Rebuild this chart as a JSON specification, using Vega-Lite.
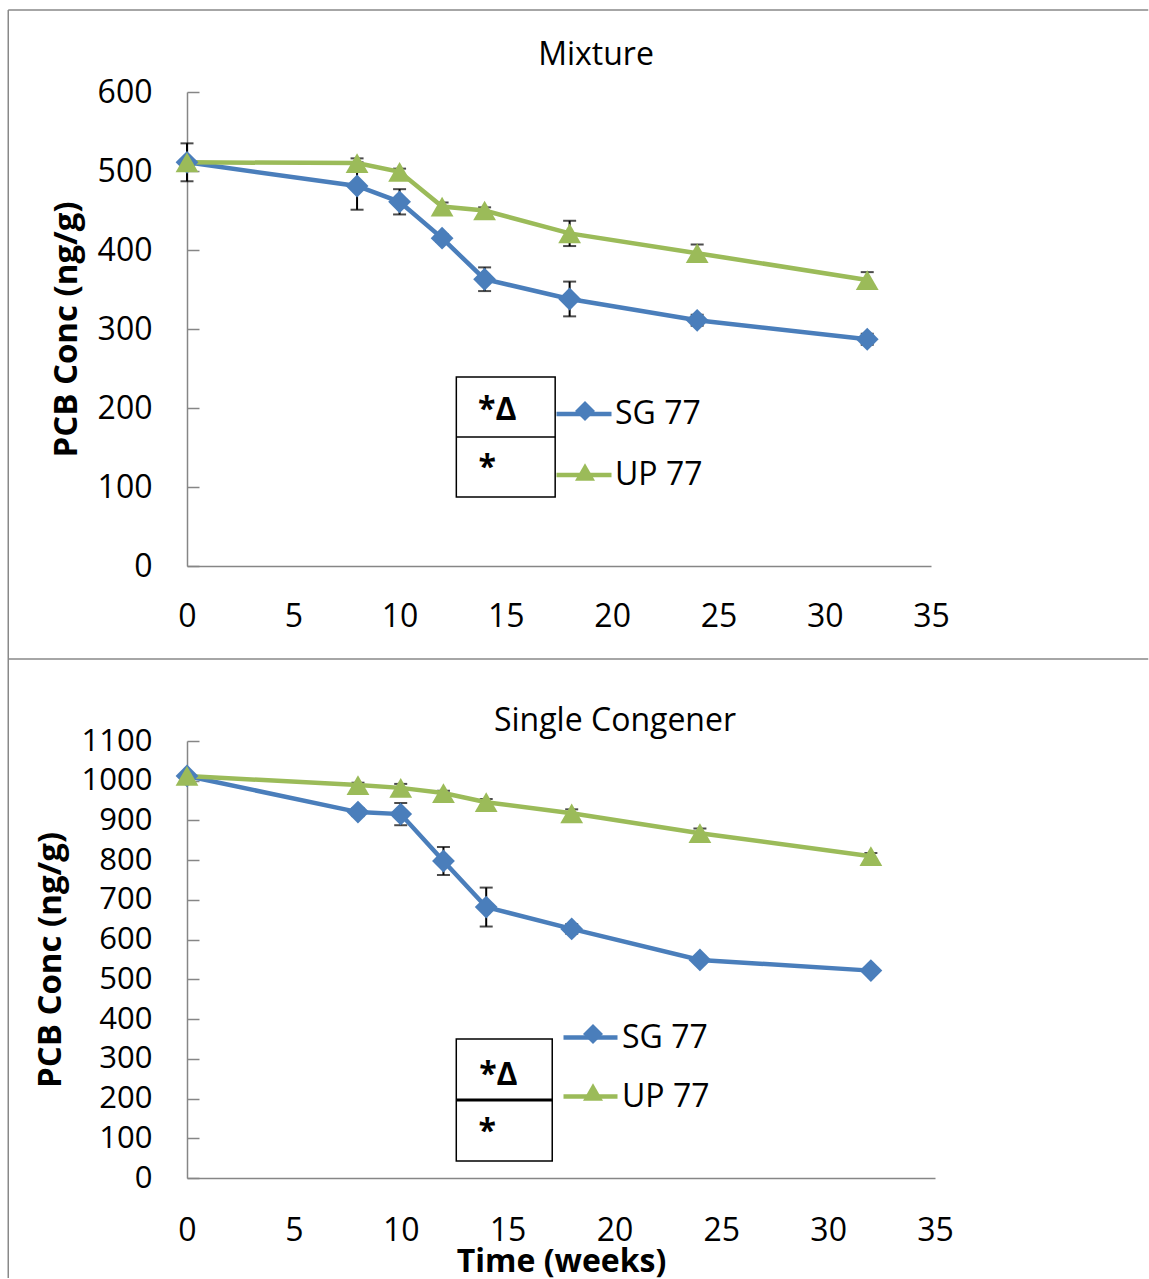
{
  "$schema": "https://vega.github.io/schema/vega-lite/v6.json",
  "background": "white",
  "padding": {"left": 7, "top": 9, "right": 0, "bottom": 0},
  "autosize": {"type": "pad"},
  "bounds": "flush",
  "spacing": 175,
  "datasets": {
    "mix": [
      {"week": 0, "series": "SG 77", "conc": 511, "err": 24},
      {"week": 8, "series": "SG 77", "conc": 481, "err": 30},
      {"week": 10, "series": "SG 77", "conc": 461, "err": 16},
      {"week": 12, "series": "SG 77", "conc": 415, "err": 5},
      {"week": 14, "series": "SG 77", "conc": 363, "err": 15},
      {"week": 18, "series": "SG 77", "conc": 338, "err": 22},
      {"week": 24, "series": "SG 77", "conc": 311, "err": 7},
      {"week": 32, "series": "SG 77", "conc": 287, "err": 7},
      {"week": 0, "series": "UP 77", "conc": 511, "err": 4},
      {"week": 8, "series": "UP 77", "conc": 510, "err": 6},
      {"week": 10, "series": "UP 77", "conc": 499, "err": 4},
      {"week": 12, "series": "UP 77", "conc": 455, "err": 5},
      {"week": 14, "series": "UP 77", "conc": 450, "err": 4},
      {"week": 18, "series": "UP 77", "conc": 421, "err": 16},
      {"week": 24, "series": "UP 77", "conc": 396, "err": 11},
      {"week": 32, "series": "UP 77", "conc": 362, "err": 10}
    ],
    "single": [
      {"week": 0, "series": "SG 77", "conc": 1012, "err": 5},
      {"week": 8, "series": "SG 77", "conc": 921, "err": 10},
      {"week": 10, "series": "SG 77", "conc": 916, "err": 28},
      {"week": 12, "series": "SG 77", "conc": 798, "err": 35},
      {"week": 14, "series": "SG 77", "conc": 682, "err": 49},
      {"week": 18, "series": "SG 77", "conc": 627, "err": 12},
      {"week": 24, "series": "SG 77", "conc": 549, "err": 6},
      {"week": 32, "series": "SG 77", "conc": 522, "err": 8},
      {"week": 0, "series": "UP 77", "conc": 1012, "err": 5},
      {"week": 8, "series": "UP 77", "conc": 989, "err": 6},
      {"week": 10, "series": "UP 77", "conc": 982, "err": 10},
      {"week": 12, "series": "UP 77", "conc": 969, "err": 6},
      {"week": 14, "series": "UP 77", "conc": 946, "err": 8},
      {"week": 18, "series": "UP 77", "conc": 918, "err": 10},
      {"week": 24, "series": "UP 77", "conc": 868, "err": 12},
      {"week": 32, "series": "UP 77", "conc": 810, "err": 8}
    ],
    "boxMix": [{"w1": 12.67, "w2": 17.32, "c1": 239.2, "c2": 87.3, "cd": 163.3}],
    "textMix": [
      {"label": "*Δ", "week": 14.6, "conc": 197.5},
      {"label": "*", "week": 14.12, "conc": 124}
    ],
    "boxSingle": [{"w1": 12.6, "w2": 17.09, "c1": 349.9, "c2": 42.8, "cd": 196.3}],
    "textSingle": [
      {"label": "*Δ", "week": 14.57, "conc": 259.3},
      {"label": "*", "week": 14.05, "conc": 115.8}
    ]
  },
  "resolve": {
    "scale": {"x": "independent", "y": "independent", "stroke": "independent", "fill": "independent", "shape": "independent"},
    "legend": {"stroke": "independent", "fill": "independent", "shape": "independent"}
  },
  "vconcat": [
    {
      "width": 744,
      "height": 474,
      "title": {"text": "Mixture", "anchor": "middle", "frame": "group", "dx": 37, "offset": -88, "baseline": "alphabetic", "fontSize": 32, "fontWeight": "normal", "font": "Open Sans", "color": "black"},
      "layer": [
        {
          "data": {"values": [{}]},
          "mark": {"type": "rule", "color": "#898989", "strokeWidth": 1.5},
          "encoding": {
            "x": {"datum": -8.409, "type": "quantitative", "title": null, "scale": {"domain": [0, 35], "nice": false, "zero": false},
                  "axis": {"values": [0, 5, 10, 15, 20, 25, 30, 35], "ticks": false, "labelPadding": 35, "labelOverlap": false, "title": null, "format": "d"}},
            "x2": {"datum": 45.22},
            "y": {"datum": 703.8, "type": "quantitative", "title": "PCB Conc (ng/g)", "scale": {"domain": [0, 600], "nice": false},
                  "axis": {"values": [0, 100, 200, 300, 400, 500, 600], "tickSize": -12, "labelPadding": 47, "labelOverlap": false, "title": "PCB Conc (ng/g)", "titlePadding": 14, "format": "d"}}
          }
        },
        {
          "data": {"values": [{}]},
          "mark": {"type": "rule", "color": "#898989", "strokeWidth": 1.5},
          "encoding": {
            "x": {"datum": -8.409, "type": "quantitative", "title": null, "scale": {"domain": [0, 35], "nice": false, "zero": false}},
            "x2": {"datum": 45.22},
            "y": {"datum": -117.7, "type": "quantitative", "title": "PCB Conc (ng/g)", "scale": {"domain": [0, 600], "nice": false}}
          }
        },
        {
          "data": {"values": [{}]},
          "mark": {"type": "rule", "color": "#898989", "strokeWidth": 1.5},
          "encoding": {
            "x": {"datum": -8.409, "type": "quantitative", "title": null, "scale": {"domain": [0, 35], "nice": false, "zero": false}},
            "y": {"datum": 703.8, "type": "quantitative", "title": "PCB Conc (ng/g)", "scale": {"domain": [0, 600], "nice": false}},
            "y2": {"datum": -117.7}
          }
        },
        {
          "data": {"name": "mix"},
          "mark": {"type": "errorbar", "ticks": true, "color": "black", "size": 13, "thickness": 2},
          "encoding": {
            "x": {"field": "week", "type": "quantitative", "title": null, "scale": {"domain": [0, 35], "nice": false, "zero": false}},
            "y": {"field": "conc", "type": "quantitative", "title": "PCB Conc (ng/g)", "scale": {"domain": [0, 600], "nice": false}},
            "yError": {"field": "err"}
          }
        },
        {
          "data": {"name": "mix"},
          "mark": {"type": "line", "strokeWidth": 4.5},
          "encoding": {
            "x": {"field": "week", "type": "quantitative", "title": null, "scale": {"domain": [0, 35], "nice": false, "zero": false}},
            "y": {"field": "conc", "type": "quantitative", "title": "PCB Conc (ng/g)", "scale": {"domain": [0, 600], "nice": false}},
            "stroke": {"field": "series", "type": "nominal", "scale": {"range": ["#4A7EBB", "#9BBB59"]},
                       "legend": {"orient": "none", "legendX": 367, "legendY": 292, "title": null, "symbolType": "stroke", "symbolSize": 3025, "symbolStrokeWidth": 4.5, "labelOffset": 1, "rowPadding": 15}}
          }
        },
        {
          "data": {"name": "mix"},
          "mark": {"type": "point", "filled": true, "opacity": 1, "size": 520},
          "encoding": {
            "x": {"field": "week", "type": "quantitative", "title": null, "scale": {"domain": [0, 35], "nice": false, "zero": false}},
            "y": {"field": "conc", "type": "quantitative", "title": "PCB Conc (ng/g)", "scale": {"domain": [0, 600], "nice": false}},
            "fill": {"field": "series", "type": "nominal", "scale": {"domain": ["SG 77", "UP 77"], "range": ["#4A7EBB", "#9BBB59"]},
                     "legend": {"orient": "none", "legendX": 388, "legendY": 309, "title": null, "symbolSize": 400, "symbolStrokeWidth": 0, "symbolOpacity": 1, "labelExpr": "''", "labelFontSize": 1, "rowPadding": 41}},
            "shape": {"field": "series", "type": "nominal", "scale": {"domain": ["SG 77", "UP 77"], "range": ["diamond", "triangle-up"]},
                      "legend": {"orient": "none", "legendX": 388, "legendY": 309, "title": null, "symbolSize": 400, "symbolStrokeWidth": 0, "symbolOpacity": 1, "labelExpr": "''", "labelFontSize": 1, "rowPadding": 41}}
          }
        },
        {
          "data": {"name": "boxMix"},
          "mark": {"type": "rect", "fill": "white", "stroke": "black", "strokeWidth": 1.5},
          "encoding": {
            "x": {"field": "w1", "type": "quantitative", "title": null, "scale": {"domain": [0, 35], "nice": false, "zero": false}},
            "x2": {"field": "w2"},
            "y": {"field": "c1", "type": "quantitative", "title": "PCB Conc (ng/g)", "scale": {"domain": [0, 600], "nice": false}},
            "y2": {"field": "c2"}
          }
        },
        {
          "data": {"name": "boxMix"},
          "mark": {"type": "rule", "color": "black", "strokeWidth": 1.5},
          "encoding": {
            "x": {"field": "w1", "type": "quantitative", "title": null, "scale": {"domain": [0, 35], "nice": false, "zero": false}},
            "x2": {"field": "w2"},
            "y": {"field": "cd", "type": "quantitative", "title": "PCB Conc (ng/g)", "scale": {"domain": [0, 600], "nice": false}}
          }
        },
        {
          "data": {"name": "textMix"},
          "mark": {"type": "text", "font": "Open Sans", "fontSize": 32, "fontWeight": "bold", "color": "black", "align": "center", "baseline": "middle"},
          "encoding": {
            "x": {"field": "week", "type": "quantitative", "title": null, "scale": {"domain": [0, 35], "nice": false, "zero": false}},
            "y": {"field": "conc", "type": "quantitative", "title": "PCB Conc (ng/g)", "scale": {"domain": [0, 600], "nice": false}},
            "text": {"field": "label"}
          }
        }
      ]
    },
    {
      "width": 748,
      "height": 437,
      "title": {"text": "Single Congener", "anchor": "middle", "frame": "group", "dx": 54, "offset": -105, "baseline": "alphabetic", "fontSize": 32, "fontWeight": "normal", "font": "Open Sans", "color": "black"},
      "layer": [
        {
          "data": {"values": [{}]},
          "mark": {"type": "rule", "color": "#898989", "strokeWidth": 1.5},
          "encoding": {
            "x": {"datum": -8.364, "type": "quantitative", "title": "Time (weeks)", "scale": {"domain": [0, 35], "nice": false, "zero": false},
                  "axis": {"values": [0, 5, 10, 15, 20, 25, 30, 35], "ticks": false, "labelPadding": 37, "labelOverlap": false, "title": "Time (weeks)", "titleFontSize": 32, "titlePadding": 0, "format": "d"}},
            "y": {"datum": 1306.4, "type": "quantitative", "title": "PCB Conc (ng/g)", "scale": {"domain": [0, 1100], "nice": false},
                  "axis": {"values": [0, 100, 200, 300, 400, 500, 600, 700, 800, 900, 1000, 1100], "tickCount": 12, "tickSize": -12, "labelPadding": 47, "labelFontSize": 31, "labelOverlap": false, "labelBound": false, "title": "PCB Conc (ng/g)", "titlePadding": 14, "format": "d"}},
            "y2": {"datum": -251.7}
          }
        },
        {
          "data": {"name": "single"},
          "mark": {"type": "errorbar", "ticks": true, "color": "black", "size": 13, "thickness": 2},
          "encoding": {
            "x": {"field": "week", "type": "quantitative", "title": "Time (weeks)", "scale": {"domain": [0, 35], "nice": false, "zero": false}},
            "y": {"field": "conc", "type": "quantitative", "title": "PCB Conc (ng/g)", "scale": {"domain": [0, 1100], "nice": false},
                  "axis": {"values": [0, 100, 200, 300, 400, 500, 600, 700, 800, 900, 1000, 1100], "tickCount": 12, "tickSize": -12, "labelPadding": 47, "labelFontSize": 31, "labelOverlap": false, "labelBound": false, "title": "PCB Conc (ng/g)", "titlePadding": 14, "format": "d"}},
            "yError": {"field": "err"}
          }
        },
        {
          "data": {"name": "single"},
          "mark": {"type": "line", "strokeWidth": 4.5},
          "encoding": {
            "x": {"field": "week", "type": "quantitative", "title": "Time (weeks)", "scale": {"domain": [0, 35], "nice": false, "zero": false}},
            "y": {"field": "conc", "type": "quantitative", "title": "PCB Conc (ng/g)", "scale": {"domain": [0, 1100], "nice": false},
                  "axis": {"values": [0, 100, 200, 300, 400, 500, 600, 700, 800, 900, 1000, 1100], "tickCount": 12, "tickSize": -12, "labelPadding": 47, "labelFontSize": 31, "labelOverlap": false, "labelBound": false, "title": "PCB Conc (ng/g)", "titlePadding": 14, "format": "d"}},
            "stroke": {"field": "series", "type": "nominal", "scale": {"range": ["#4A7EBB", "#9BBB59"]},
                       "legend": {"orient": "none", "legendX": 374, "legendY": 267, "title": null, "symbolType": "stroke", "symbolSize": 2916, "symbolStrokeWidth": 4.5, "labelOffset": 2, "rowPadding": 13}}
          }
        },
        {
          "data": {"name": "single"},
          "mark": {"type": "point", "filled": true, "opacity": 1, "size": 520},
          "encoding": {
            "x": {"field": "week", "type": "quantitative", "title": "Time (weeks)", "scale": {"domain": [0, 35], "nice": false, "zero": false}},
            "y": {"field": "conc", "type": "quantitative", "title": "PCB Conc (ng/g)", "scale": {"domain": [0, 1100], "nice": false}},
            "fill": {"field": "series", "type": "nominal", "scale": {"domain": ["SG 77", "UP 77"], "range": ["#4A7EBB", "#9BBB59"]},
                     "legend": {"orient": "none", "legendX": 396, "legendY": 283, "title": null, "symbolSize": 400, "symbolStrokeWidth": 0, "symbolOpacity": 1, "labelExpr": "''", "labelFontSize": 1, "rowPadding": 38}},
            "shape": {"field": "series", "type": "nominal", "scale": {"domain": ["SG 77", "UP 77"], "range": ["diamond", "triangle-up"]},
                      "legend": {"orient": "none", "legendX": 396, "legendY": 283, "title": null, "symbolSize": 400, "symbolStrokeWidth": 0, "symbolOpacity": 1, "labelExpr": "''", "labelFontSize": 1, "rowPadding": 38}}
          }
        },
        {
          "data": {"name": "boxSingle"},
          "mark": {"type": "rect", "fill": "white", "stroke": "black", "strokeWidth": 1.5},
          "encoding": {
            "x": {"field": "w1", "type": "quantitative", "title": "Time (weeks)", "scale": {"domain": [0, 35], "nice": false, "zero": false}},
            "x2": {"field": "w2"},
            "y": {"field": "c1", "type": "quantitative", "title": "PCB Conc (ng/g)", "scale": {"domain": [0, 1100], "nice": false}},
            "y2": {"field": "c2"}
          }
        },
        {
          "data": {"name": "boxSingle"},
          "mark": {"type": "rule", "color": "black", "strokeWidth": 3},
          "encoding": {
            "x": {"field": "w1", "type": "quantitative", "title": "Time (weeks)", "scale": {"domain": [0, 35], "nice": false, "zero": false}},
            "x2": {"field": "w2"},
            "y": {"field": "cd", "type": "quantitative", "title": "PCB Conc (ng/g)", "scale": {"domain": [0, 1100], "nice": false}}
          }
        },
        {
          "data": {"name": "textSingle"},
          "mark": {"type": "text", "font": "Open Sans", "fontSize": 32, "fontWeight": "bold", "color": "black", "align": "center", "baseline": "middle"},
          "encoding": {
            "x": {"field": "week", "type": "quantitative", "title": "Time (weeks)", "scale": {"domain": [0, 35], "nice": false, "zero": false}},
            "y": {"field": "conc", "type": "quantitative", "title": "PCB Conc (ng/g)", "scale": {"domain": [0, 1100], "nice": false}},
            "text": {"field": "label"}
          }
        }
      ]
    }
  ],
  "config": {
    "view": {"stroke": null},
    "font": "Open Sans",
    "axis": {
      "grid": false,
      "domainColor": "#868686",
      "domainWidth": 1.5,
      "tickColor": "#868686",
      "tickWidth": 1.5,
      "labelFont": "Open Sans",
      "labelFontSize": 32,
      "labelColor": "black",
      "labelFlush": false,
      "labelOverlap": false,
      "titleFont": "Open Sans",
      "titleFontSize": 33,
      "titleFontWeight": "bold",
      "titleColor": "black"
    },
    "legend": {
      "labelFont": "Open Sans",
      "labelFontSize": 32,
      "labelColor": "black",
      "labelLimit": 0,
      "padding": 0,
      "offset": 0
    }
  }
}
